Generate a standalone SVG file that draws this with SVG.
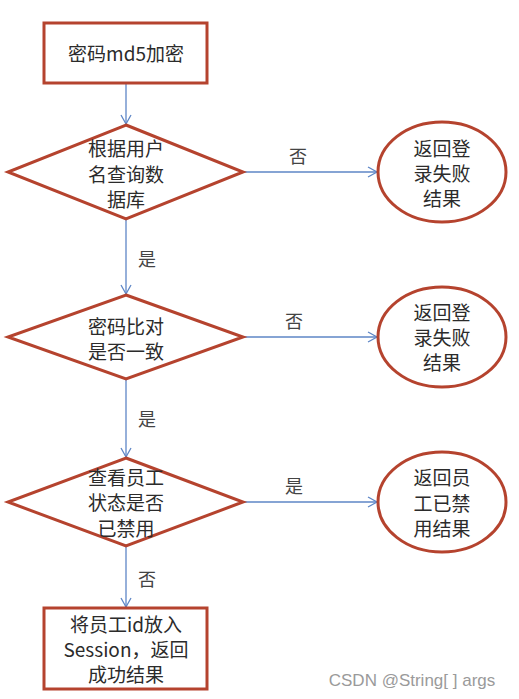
<svg xmlns="http://www.w3.org/2000/svg" width="519" height="699" viewBox="0 0 519 699">
<style>
.box{fill:#fff;stroke:#B5432E;stroke-width:3}
.ln{fill:none;stroke:#5E86C6;stroke-width:1.3}
.t{font-family:"Noto Sans CJK SC","Noto Sans",sans-serif;font-size:19px;fill:#2b2b2b;text-anchor:middle;dominant-baseline:central}
.lb{font-family:"Noto Sans CJK SC","Noto Sans",sans-serif;font-size:18px;fill:#444;text-anchor:middle;dominant-baseline:central}
</style>
<defs>
<marker id="a" markerWidth="12" markerHeight="12" refX="10" refY="6" orient="auto" markerUnits="userSpaceOnUse">
<path d="M1,1 L10,6 L1,11" fill="none" stroke="#5E86C6" stroke-width="1.3"/>
</marker>
</defs>
<rect width="519" height="699" fill="#fff"/>
<g id="connectors">
<line class="ln" x1="126" y1="83" x2="126" y2="124" marker-end="url(#a)"/>
<line class="ln" x1="243" y1="172" x2="377" y2="172" marker-end="url(#a)"/>
<line class="ln" x1="126" y1="219" x2="126" y2="294" marker-end="url(#a)"/>
<line class="ln" x1="243" y1="337" x2="377" y2="337" marker-end="url(#a)"/>
<line class="ln" x1="126" y1="379" x2="126" y2="457" marker-end="url(#a)"/>
<line class="ln" x1="243" y1="502" x2="377" y2="502" marker-end="url(#a)"/>
<line class="ln" x1="126" y1="546" x2="126" y2="607" marker-end="url(#a)"/>
<text class="lb" x="298" y="155">否</text>
<text class="lb" x="147" y="258">是</text>
<text class="lb" x="294" y="320">否</text>
<text class="lb" x="147" y="418">是</text>
<text class="lb" x="294" y="485">是</text>
<text class="lb" x="147" y="578">否</text>
</g>
<g id="n1">
<rect class="box" x="44" y="23" width="163" height="60"/>
<text class="t" x="126" y="52">密码md5加密</text>
</g>
<g id="n2">
<polygon class="box" points="126,125 243,172 126,219 8,172"/>
<text class="t" x="126" y="147">根据用户</text>
<text class="t" x="126" y="173">名查询数</text>
<text class="t" x="126" y="198">据库</text>
</g>
<g id="n3">
<ellipse class="box" cx="442" cy="172" rx="64" ry="50"/>
<text class="t" x="442" y="147">返回登</text>
<text class="t" x="442" y="172">录失败</text>
<text class="t" x="442" y="197">结果</text>
</g>
<g id="n4">
<polygon class="box" points="126,295 243,337 126,379 8,337"/>
<text class="t" x="126" y="325">密码比对</text>
<text class="t" x="126" y="350">是否一致</text>
</g>
<g id="n5">
<ellipse class="box" cx="442" cy="337" rx="64" ry="50"/>
<text class="t" x="442" y="311">返回登</text>
<text class="t" x="442" y="336">录失败</text>
<text class="t" x="442" y="361">结果</text>
</g>
<g id="n6">
<polygon class="box" points="126,458 243,502 126,546 8,502"/>
<text class="t" x="126" y="476">查看员工</text>
<text class="t" x="126" y="501">状态是否</text>
<text class="t" x="126" y="527">已禁用</text>
</g>
<g id="n7">
<ellipse class="box" cx="442" cy="502" rx="64" ry="50"/>
<text class="t" x="442" y="476">返回员</text>
<text class="t" x="442" y="502">工已禁</text>
<text class="t" x="442" y="527">用结果</text>
</g>
<g id="n8">
<rect class="box" x="44" y="608" width="163" height="81"/>
<text class="t" x="126" y="623">将员工id放入</text>
<text class="t" x="126" y="648">Session，返回</text>
<text class="t" x="126" y="673">成功结果</text>
</g>
<text x="412" y="680" font-family="'Liberation Sans',Arial,sans-serif" font-size="17" fill="#9a9a9a" text-anchor="middle" dominant-baseline="central">CSDN @String[ ] args</text>
</svg>
